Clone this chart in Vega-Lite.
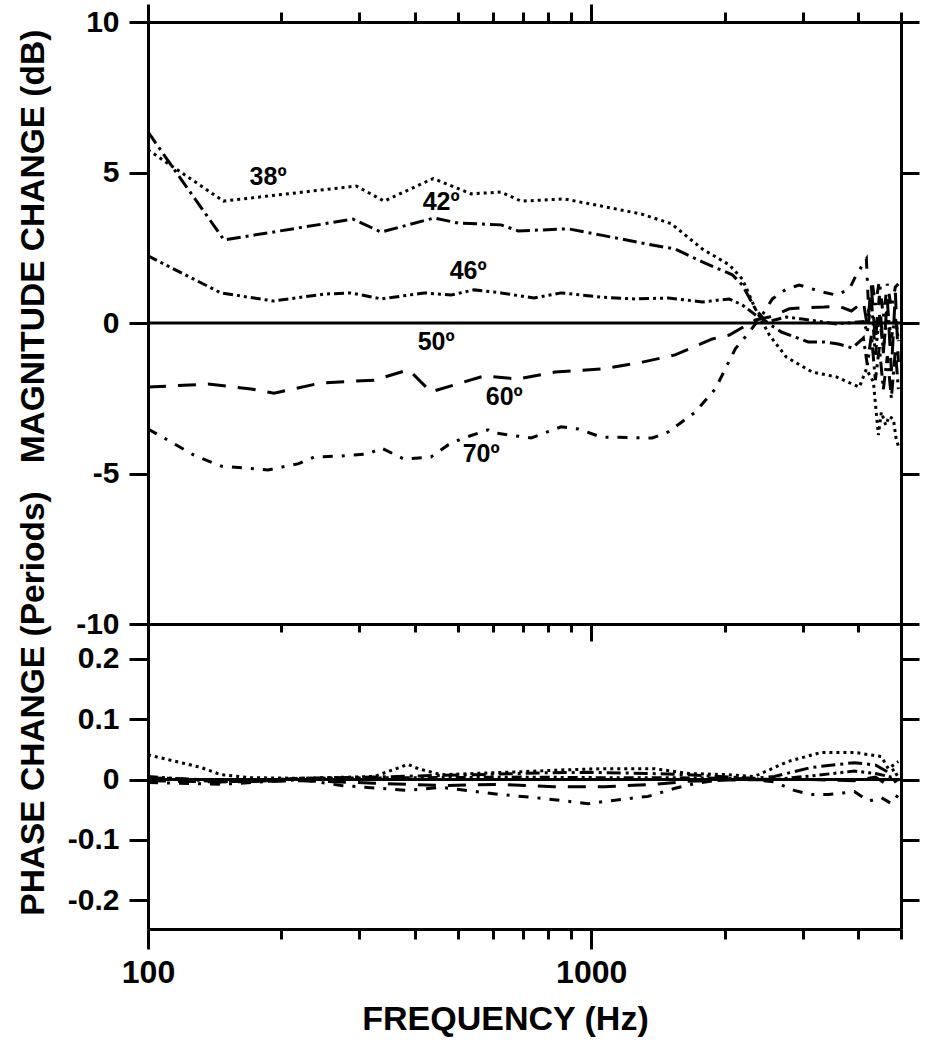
{
  "$schema": "https://vega.github.io/schema/vega-lite/v6.json",
  "padding": {"left": 15, "top": 2, "right": 5, "bottom": 5},
  "bounds": "flush",
  "spacing": 0,
  "background": "white",
  "config": {
    "view": {"stroke": null},
    "axis": {
      "grid": false,
      "domainColor": "black",
      "domainWidth": 3,
      "tickColor": "black",
      "tickWidth": 3,
      "labelColor": "black",
      "titleColor": "black",
      "labelFont": "Liberation Sans",
      "labelFontWeight": "bold",
      "titleFont": "Liberation Sans",
      "titleFontWeight": "bold",
      "titleFontSize": 33.5
    }
  },
  "datasets": {
    "mag": [
      {"f": 100, "v": 5.75, "a": "38º"}, {"f": 148, "v": 4.05, "a": "38º"}, {"f": 295, "v": 4.55, "a": "38º"}, {"f": 341, "v": 4.05, "a": "38º"}, {"f": 440, "v": 4.8, "a": "38º"}, {"f": 536, "v": 4.29, "a": "38º"}, {"f": 626, "v": 4.35, "a": "38º"}, {"f": 695, "v": 4.05, "a": "38º"}, {"f": 869, "v": 4.12, "a": "38º"}, {"f": 1026, "v": 3.92, "a": "38º"}, {"f": 1297, "v": 3.62, "a": "38º"}, {"f": 1516, "v": 3.3, "a": "38º"}, {"f": 1781, "v": 2.46, "a": "38º"}, {"f": 2049, "v": 1.93, "a": "38º"}, {"f": 2193, "v": 1.46, "a": "38º"}, {"f": 2346, "v": 0.47, "a": "38º"}, {"f": 2523, "v": -0.4, "a": "38º"}, {"f": 2755, "v": -1.13, "a": "38º"}, {"f": 3154, "v": -1.63, "a": "38º"}, {"f": 3573, "v": -1.79, "a": "38º"}, {"f": 4027, "v": -2.13, "a": "38º"}, {"f": 4177, "v": -1.53, "a": "38º"}, {"f": 4332, "v": -1.96, "a": "38º"}, {"f": 4445, "v": -3.72, "a": "38º"}, {"f": 4515, "v": -2.96, "a": "38º"}, {"f": 4620, "v": -3.4, "a": "38º"}, {"f": 4700, "v": -3.1, "a": "38º"}, {"f": 4806, "v": -3.19, "a": "38º"}, {"f": 4870, "v": -3.8, "a": "38º"}, {"f": 4932, "v": -4.1, "a": "38º"},
      {"f": 100, "v": 6.35, "a": "42º"}, {"f": 112.7, "v": 5.25, "a": "42º"}, {"f": 148.4, "v": 2.76, "a": "42º"}, {"f": 290, "v": 3.45, "a": "42º"}, {"f": 336, "v": 3.02, "a": "42º"}, {"f": 442, "v": 3.49, "a": "42º"}, {"f": 501, "v": 3.32, "a": "42º"}, {"f": 626, "v": 3.26, "a": "42º"}, {"f": 684, "v": 3.06, "a": "42º"}, {"f": 771, "v": 3.09, "a": "42º"}, {"f": 887, "v": 3.13, "a": "42º"}, {"f": 1053, "v": 2.92, "a": "42º"}, {"f": 1373, "v": 2.59, "a": "42º"}, {"f": 1547, "v": 2.46, "a": "42º"}, {"f": 1781, "v": 2.03, "a": "42º"}, {"f": 2082, "v": 1.6, "a": "42º"}, {"f": 2193, "v": 1.26, "a": "42º"}, {"f": 2346, "v": 0.47, "a": "42º"}, {"f": 2483, "v": 0.03, "a": "42º"}, {"f": 2685, "v": -0.3, "a": "42º"}, {"f": 3089, "v": -0.63, "a": "42º"}, {"f": 3357, "v": -0.63, "a": "42º"}, {"f": 3611, "v": -0.7, "a": "42º"}, {"f": 3884, "v": -0.83, "a": "42º"}, {"f": 4112, "v": -0.5, "a": "42º"}, {"f": 4198, "v": -1.4, "a": "42º"}, {"f": 4287, "v": -0.4, "a": "42º"}, {"f": 4377, "v": -1.9, "a": "42º"}, {"f": 4468, "v": -0.8, "a": "42º"}, {"f": 4562, "v": -2.2, "a": "42º"}, {"f": 4658, "v": -1.1, "a": "42º"}, {"f": 4756, "v": -2.5, "a": "42º"}, {"f": 4856, "v": -0.9, "a": "42º"}, {"f": 4932, "v": -2.2, "a": "42º"},
      {"f": 100, "v": 2.23, "a": "46º"}, {"f": 146, "v": 1.0, "a": "46º"}, {"f": 192, "v": 0.73, "a": "46º"}, {"f": 249.6, "v": 0.96, "a": "46º"}, {"f": 287, "v": 1.0, "a": "46º"}, {"f": 336, "v": 0.8, "a": "46º"}, {"f": 420, "v": 1.0, "a": "46º"}, {"f": 483, "v": 0.93, "a": "46º"}, {"f": 544, "v": 1.1, "a": "46º"}, {"f": 626, "v": 1.0, "a": "46º"}, {"f": 743, "v": 0.83, "a": "46º"}, {"f": 855, "v": 1.0, "a": "46º"}, {"f": 1053, "v": 0.86, "a": "46º"}, {"f": 1257, "v": 0.8, "a": "46º"}, {"f": 1492, "v": 0.83, "a": "46º"}, {"f": 1781, "v": 0.7, "a": "46º"}, {"f": 2049, "v": 0.8, "a": "46º"}, {"f": 2193, "v": 0.6, "a": "46º"}, {"f": 2346, "v": 0.27, "a": "46º"}, {"f": 2483, "v": 0.03, "a": "46º"}, {"f": 2755, "v": 0.2, "a": "46º"}, {"f": 2995, "v": 0.13, "a": "46º"}, {"f": 3573, "v": -0.03, "a": "46º"}, {"f": 4112, "v": 0.05, "a": "46º"}, {"f": 4198, "v": -0.3, "a": "46º"}, {"f": 4287, "v": 0.8, "a": "46º"}, {"f": 4377, "v": -1.1, "a": "46º"}, {"f": 4468, "v": 0.3, "a": "46º"}, {"f": 4562, "v": -0.9, "a": "46º"}, {"f": 4658, "v": 0.4, "a": "46º"}, {"f": 4756, "v": -0.5, "a": "46º"}, {"f": 4856, "v": 0.2, "a": "46º"}, {"f": 4932, "v": -0.6, "a": "46º"},
      {"f": 100, "v": 0, "a": "50º"}, {"f": 5000, "v": 0, "a": "50º"},
      {"f": 100, "v": -2.13, "a": "60º"}, {"f": 136.6, "v": -2.03, "a": "60º"}, {"f": 170.8, "v": -2.19, "a": "60º"}, {"f": 192.5, "v": -2.33, "a": "60º"}, {"f": 245.8, "v": -1.99, "a": "60º"}, {"f": 323.6, "v": -1.9, "a": "60º"}, {"f": 386, "v": -1.56, "a": "60º"}, {"f": 396, "v": -1.69, "a": "60º"}, {"f": 435, "v": -2.29, "a": "60º"}, {"f": 573, "v": -1.76, "a": "60º"}, {"f": 684, "v": -1.86, "a": "60º"}, {"f": 829, "v": -1.63, "a": "60º"}, {"f": 1053, "v": -1.53, "a": "60º"}, {"f": 1304, "v": -1.3, "a": "60º"}, {"f": 1547, "v": -1.06, "a": "60º"}, {"f": 1664, "v": -0.86, "a": "60º"}, {"f": 1876, "v": -0.53, "a": "60º"}, {"f": 2049, "v": -0.4, "a": "60º"}, {"f": 2346, "v": 0.1, "a": "60º"}, {"f": 2523, "v": 0.2, "a": "60º"}, {"f": 2799, "v": 0.47, "a": "60º"}, {"f": 2979, "v": 0.5, "a": "60º"}, {"f": 3357, "v": 0.53, "a": "60º"}, {"f": 3611, "v": 0.56, "a": "60º"}, {"f": 3863, "v": 0.4, "a": "60º"}, {"f": 4112, "v": 0.7, "a": "60º"}, {"f": 4198, "v": -0.1, "a": "60º"}, {"f": 4287, "v": 1.2, "a": "60º"}, {"f": 4377, "v": -0.6, "a": "60º"}, {"f": 4468, "v": 0.9, "a": "60º"}, {"f": 4562, "v": -1.0, "a": "60º"}, {"f": 4658, "v": 0.8, "a": "60º"}, {"f": 4756, "v": -1.6, "a": "60º"}, {"f": 4856, "v": 1.0, "a": "60º"}, {"f": 4932, "v": -1.3, "a": "60º"},
      {"f": 100, "v": -3.52, "a": "70º"}, {"f": 108.7, "v": -3.82, "a": "70º"}, {"f": 127, "v": -4.39, "a": "70º"}, {"f": 146, "v": -4.75, "a": "70º"}, {"f": 186.6, "v": -4.88, "a": "70º"}, {"f": 218, "v": -4.68, "a": "70º"}, {"f": 237, "v": -4.45, "a": "70º"}, {"f": 272.8, "v": -4.42, "a": "70º"}, {"f": 314, "v": -4.35, "a": "70º"}, {"f": 336, "v": -4.15, "a": "70º"}, {"f": 378, "v": -4.52, "a": "70º"}, {"f": 435, "v": -4.45, "a": "70º"}, {"f": 475.6, "v": -4.05, "a": "70º"}, {"f": 508.8, "v": -3.85, "a": "70º"}, {"f": 585.5, "v": -3.55, "a": "70º"}, {"f": 604, "v": -3.65, "a": "70º"}, {"f": 732, "v": -3.82, "a": "70º"}, {"f": 855, "v": -3.45, "a": "70º"}, {"f": 935, "v": -3.52, "a": "70º"}, {"f": 1053, "v": -3.79, "a": "70º"}, {"f": 1373, "v": -3.82, "a": "70º"}, {"f": 1492, "v": -3.62, "a": "70º"}, {"f": 1717, "v": -2.96, "a": "70º"}, {"f": 1905, "v": -2.19, "a": "70º"}, {"f": 2114, "v": -0.86, "a": "70º"}, {"f": 2274, "v": -0.3, "a": "70º"}, {"f": 2432, "v": 0.27, "a": "70º"}, {"f": 2563, "v": 0.8, "a": "70º"}, {"f": 2755, "v": 1.13, "a": "70º"}, {"f": 2948, "v": 1.26, "a": "70º"}, {"f": 3322, "v": 1.03, "a": "70º"}, {"f": 3573, "v": 0.93, "a": "70º"}, {"f": 3823, "v": 1.13, "a": "70º"}, {"f": 3965, "v": 1.6, "a": "70º"}, {"f": 4177, "v": 2.13, "a": "70º"}, {"f": 4230, "v": 0.3, "a": "70º"}, {"f": 4300, "v": 1.4, "a": "70º"}, {"f": 4377, "v": 0.6, "a": "70º"}, {"f": 4468, "v": 1.4, "a": "70º"}, {"f": 4562, "v": 0.2, "a": "70º"}, {"f": 4658, "v": 1.3, "a": "70º"}, {"f": 4756, "v": 0.5, "a": "70º"}, {"f": 4856, "v": 1.2, "a": "70º"}, {"f": 4932, "v": 1.3, "a": "70º"}
    ],
    "phase": [
      {"f": 100, "v": 0.041, "a": "38º"}, {"f": 131.7, "v": 0.02, "a": "38º"}, {"f": 146, "v": 0.008, "a": "38º"}, {"f": 170.8, "v": 0.003, "a": "38º"}, {"f": 221.5, "v": 0.002, "a": "38º"}, {"f": 323.6, "v": 0.005, "a": "38º"}, {"f": 386, "v": 0.025, "a": "38º"}, {"f": 407, "v": 0.018, "a": "38º"}, {"f": 458.5, "v": 0.008, "a": "38º"}, {"f": 544.5, "v": 0.01, "a": "38º"}, {"f": 695, "v": 0.013, "a": "38º"}, {"f": 869, "v": 0.016, "a": "38º"}, {"f": 1070, "v": 0.018, "a": "38º"}, {"f": 1387, "v": 0.018, "a": "38º"}, {"f": 1656, "v": 0.01, "a": "38º"}, {"f": 2039, "v": 0.008, "a": "38º"}, {"f": 2333, "v": 0.005, "a": "38º"}, {"f": 2784, "v": 0.03, "a": "38º"}, {"f": 3305, "v": 0.045, "a": "38º"}, {"f": 3925, "v": 0.045, "a": "38º"}, {"f": 4515, "v": 0.038, "a": "38º"}, {"f": 4681, "v": 0.018, "a": "38º"}, {"f": 4932, "v": 0.03, "a": "38º"},
      {"f": 100, "v": 0.003, "a": "42º"}, {"f": 131.7, "v": 0.0, "a": "42º"}, {"f": 170.8, "v": -0.004, "a": "42º"}, {"f": 221.5, "v": 0.002, "a": "42º"}, {"f": 323.6, "v": 0.004, "a": "42º"}, {"f": 407, "v": 0.006, "a": "42º"}, {"f": 544.5, "v": 0.008, "a": "42º"}, {"f": 771, "v": 0.011, "a": "42º"}, {"f": 984.5, "v": 0.012, "a": "42º"}, {"f": 1345, "v": 0.01, "a": "42º"}, {"f": 1656, "v": 0.008, "a": "42º"}, {"f": 2039, "v": 0.004, "a": "42º"}, {"f": 2333, "v": 0.002, "a": "42º"}, {"f": 2589, "v": 0.005, "a": "42º"}, {"f": 3137, "v": 0.02, "a": "42º"}, {"f": 3925, "v": 0.028, "a": "42º"}, {"f": 4377, "v": 0.024, "a": "42º"}, {"f": 4681, "v": 0.012, "a": "42º"}, {"f": 4932, "v": 0.02, "a": "42º"},
      {"f": 100, "v": 0.005, "a": "46º"}, {"f": 146, "v": -0.004, "a": "46º"}, {"f": 221.5, "v": 0.002, "a": "46º"}, {"f": 407, "v": 0.003, "a": "46º"}, {"f": 695, "v": 0.004, "a": "46º"}, {"f": 1070, "v": 0.003, "a": "46º"}, {"f": 1539, "v": 0.003, "a": "46º"}, {"f": 2039, "v": 0.002, "a": "46º"}, {"f": 2589, "v": 0.0, "a": "46º"}, {"f": 3137, "v": 0.006, "a": "46º"}, {"f": 3925, "v": 0.014, "a": "46º"}, {"f": 4377, "v": 0.01, "a": "46º"}, {"f": 4756, "v": 0.004, "a": "46º"}, {"f": 4932, "v": 0.01, "a": "46º"},
      {"f": 100, "v": 0, "a": "50º"}, {"f": 5000, "v": 0, "a": "50º"},
      {"f": 100, "v": -0.002, "a": "60º"}, {"f": 146, "v": -0.004, "a": "60º"}, {"f": 221.5, "v": -0.002, "a": "60º"}, {"f": 323.6, "v": -0.006, "a": "60º"}, {"f": 458.5, "v": -0.01, "a": "60º"}, {"f": 626, "v": -0.008, "a": "60º"}, {"f": 825, "v": -0.012, "a": "60º"}, {"f": 1070, "v": -0.012, "a": "60º"}, {"f": 1387, "v": -0.008, "a": "60º"}, {"f": 1656, "v": -0.003, "a": "60º"}, {"f": 2039, "v": -0.001, "a": "60º"}, {"f": 2589, "v": 0.0, "a": "60º"}, {"f": 3137, "v": 0.0, "a": "60º"}, {"f": 3925, "v": -0.002, "a": "60º"}, {"f": 4377, "v": 0.004, "a": "60º"}, {"f": 4681, "v": -0.01, "a": "60º"}, {"f": 4932, "v": 0.0, "a": "60º"},
      {"f": 100, "v": -0.005, "a": "70º"}, {"f": 146, "v": -0.008, "a": "70º"}, {"f": 221.5, "v": 0.0, "a": "70º"}, {"f": 272.8, "v": -0.01, "a": "70º"}, {"f": 386, "v": -0.018, "a": "70º"}, {"f": 458.5, "v": -0.013, "a": "70º"}, {"f": 626, "v": -0.025, "a": "70º"}, {"f": 771, "v": -0.031, "a": "70º"}, {"f": 984.5, "v": -0.04, "a": "70º"}, {"f": 1168, "v": -0.033, "a": "70º"}, {"f": 1345, "v": -0.028, "a": "70º"}, {"f": 1539, "v": -0.015, "a": "70º"}, {"f": 1708, "v": -0.007, "a": "70º"}, {"f": 1966, "v": 0.0, "a": "70º"}, {"f": 2333, "v": 0.0, "a": "70º"}, {"f": 2589, "v": -0.004, "a": "70º"}, {"f": 2872, "v": -0.018, "a": "70º"}, {"f": 3137, "v": -0.025, "a": "70º"}, {"f": 3428, "v": -0.025, "a": "70º"}, {"f": 3925, "v": -0.02, "a": "70º"}, {"f": 4220, "v": -0.036, "a": "70º"}, {"f": 4515, "v": -0.03, "a": "70º"}, {"f": 4756, "v": -0.04, "a": "70º"}, {"f": 4932, "v": -0.025, "a": "70º"}
    ],
    "labels": [
      {"f": 186.6, "v": 4.85, "t": "38º"},
      {"f": 458.5, "v": 4.02, "t": "42º"},
      {"f": 527.7, "v": 1.73, "t": "46º"},
      {"f": 446.8, "v": -0.63, "t": "50º"},
      {"f": 636.4, "v": -2.46, "t": "60º"},
      {"f": 564.6, "v": -4.35, "t": "70º"}
    ]
  },
  "vconcat": [
    {
      "width": 753,
      "height": 602,
      "resolve": {"axis": {"x": "independent", "y": "independent"}},
      "layer": [
        {
          "data": {"name": "mag"},
          "mark": {"type": "line", "strokeWidth": 3, "color": "black"},
          "encoding": {
            "x": {
              "field": "f", "type": "quantitative",
              "scale": {"type": "log", "domain": [100, 5000], "nice": false},
              "axis": {
                "orient": "top", "title": null, "labels": false,
                "values": [100, 200, 300, 400, 500, 600, 700, 800, 900, 1000, 2000, 3000, 4000, 5000],
                "tickSize": {"condition": {"test": "datum.value == 100 || datum.value == 1000", "value": 18}, "value": 10}
              }
            },
            "y": {
              "field": "v", "type": "quantitative",
              "scale": {"domain": [-10, 10], "nice": false, "zero": false},
              "axis": {
                "orient": "left", "values": [-10, -5, 0, 5, 10],
                "labelExpr": "'' + datum.value",
                "labelFontSize": 30, "labelPadding": 10, "tickSize": 19,
                "title": "MAGNITUDE CHANGE (dB)",
                "titleX": -105, "titleY": 224, "titleBaseline": "alphabetic", "titleAlign": "center"
              }
            },
            "strokeDash": {
              "field": "a", "type": "nominal", "legend": null,
              "scale": {
                "domain": ["38º", "42º", "46º", "50º", "60º", "70º"],
                "range": [[3, 4], [14, 5, 3, 5], [10, 4, 3, 4, 3, 4], [1, 0], [18, 12], [10, 9, 3, 9]]
              }
            }
          }
        },
        {
          "data": {"name": "labels"},
          "mark": {"type": "text", "font": "Liberation Sans", "fontWeight": "bold", "fontSize": 25, "color": "black", "align": "center", "baseline": "middle"},
          "encoding": {
            "x": {
              "field": "f", "type": "quantitative",
              "axis": {
                "orient": "bottom", "title": null, "labels": false,
                "values": [100, 200, 300, 400, 500, 600, 700, 800, 900, 1000, 2000, 3000, 4000, 5000],
                "tickSize": {"condition": {"test": "datum.value == 100 || datum.value == 1000", "value": 17}, "value": 8}
              }
            },
            "y": {
              "field": "v", "type": "quantitative",
              "axis": {"orient": "right", "values": [-10, -5, 0, 5, 10], "labels": false, "title": null, "tickSize": 18}
            },
            "text": {"field": "t"}
          }
        }
      ]
    },
    {
      "width": 753,
      "height": 305,
      "resolve": {"axis": {"x": "independent", "y": "independent"}},
      "layer": [
        {
          "data": {"name": "phase"},
          "mark": {"type": "line", "strokeWidth": 3, "color": "black"},
          "encoding": {
            "x": {
              "field": "f", "type": "quantitative",
              "scale": {"type": "log", "domain": [100, 5000], "nice": false},
              "axis": {
                "orient": "bottom",
                "values": [100, 200, 300, 400, 500, 600, 700, 800, 900, 1000, 2000, 3000, 4000, 5000],
                "labelExpr": "datum.value == 100 ? '100' : datum.value == 1000 ? '1000' : ''",
                "labelFlush": false, "labelOverlap": false, "labelFontSize": 32, "labelPadding": 8,
                "tickSize": {"condition": {"test": "datum.value == 100 || datum.value == 1000", "value": 20}, "value": 10},
                "title": "FREQUENCY (Hz)", "titleFontSize": 34,
                "titleX": 357, "titleY": 100, "titleBaseline": "alphabetic", "titleAlign": "center"
              }
            },
            "y": {
              "field": "v", "type": "quantitative",
              "scale": {"domain": [-0.248, 0.258], "nice": false, "zero": false},
              "axis": {
                "orient": "left", "values": [-0.2, -0.1, 0, 0.1, 0.2],
                "labelExpr": "'' + datum.value",
                "labelFontSize": 30, "labelPadding": 10, "tickSize": 19,
                "title": "PHASE CHANGE (Periods)",
                "titleX": -105, "titleY": 79, "titleBaseline": "alphabetic", "titleAlign": "center"
              }
            },
            "strokeDash": {
              "field": "a", "type": "nominal", "legend": null,
              "scale": {
                "domain": ["38º", "42º", "46º", "50º", "60º", "70º"],
                "range": [[3, 4], [14, 5, 3, 5], [10, 4, 3, 4, 3, 4], [1, 0], [18, 12], [10, 9, 3, 9]]
              }
            }
          }
        },
        {
          "data": {"values": [{}]},
          "mark": {"type": "rule", "strokeWidth": 3, "color": "black"},
          "encoding": {
            "y": {
              "datum": 0, "type": "quantitative",
              "axis": {"orient": "right", "values": [-0.2, -0.1, 0, 0.1, 0.2], "labels": false, "title": null, "tickSize": 18}
            }
          }
        }
      ]
    }
  ]
}
